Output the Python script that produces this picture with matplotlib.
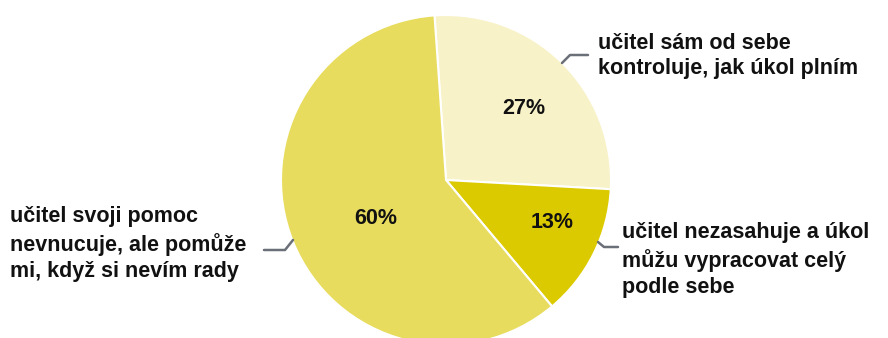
import matplotlib

matplotlib.use("Agg")

import matplotlib.pyplot as plt
import numpy as np

plt.rcParams["font.family"] = ["Liberation Sans", "DejaVu Sans"]

# Shares of answers (percent), clockwise from the top
labels = [
    "učitel sám od sebe\nkontroluje, jak úkol plním",
    "učitel nezasahuje a úkol\nmůžu vypracovat celý\npodle sebe",
    "učitel svoji pomoc\nnevnucuje, ale pomůže\nmi, když si nevím rady",
]
shares = [27, 13, 60]
colors = ["#f8f2c8", "#dcca00", "#e7dc5e"]

INK = "#111111"
LEADER = "#6b7078"

W, H = 888, 338
CX, CY, R = 446, H - 180, 165

fig = plt.figure(figsize=(W / 100, H / 100), dpi=100)
ax = fig.add_axes([0, 0, 1, 1])

wedges, _ = ax.pie(
    shares,
    colors=colors,
    startangle=94,
    counterclock=False,
    radius=R,
    center=(CX, CY),
    wedgeprops=dict(edgecolor="white", linewidth=1.5),
)

# percentage labels inside the slices
pct_pos = [(524, 108), (552, 222), (376, 218)]
for (x, y), v in zip(pct_pos, shares):
    ax.text(x, H - y, f"{v}%", ha="center", va="center",
            fontsize=15.5, fontweight="bold", color=INK)

# leader lines (pixel coords from top-left)
leaders = [
    [(562, 63), (570, 55), (588, 55)],
    [(598, 242), (604, 247), (618, 247)],
    [(293, 240), (285, 250), (264, 250)],
]
for pts in leaders:
    xs = [p[0] for p in pts]
    ys = [H - p[1] for p in pts]
    ax.plot(xs, ys, color=LEADER, linewidth=1.8, solid_capstyle="round")

# category labels
label_pos = [(598, 56, "left"), (622, 260, "left"), (10, 244, "left")]
for (x, y, ha), text in zip(label_pos, labels):
    ax.text(x, H - y, text, ha=ha, va="center", fontsize=15.5,
            fontweight="bold", color=INK, linespacing=1.3)

ax.set_xlim(0, W)
ax.set_ylim(0, H)
ax.set_aspect("equal")
ax.axis("off")

fig.savefig("out.png", dpi=100, facecolor="white")
